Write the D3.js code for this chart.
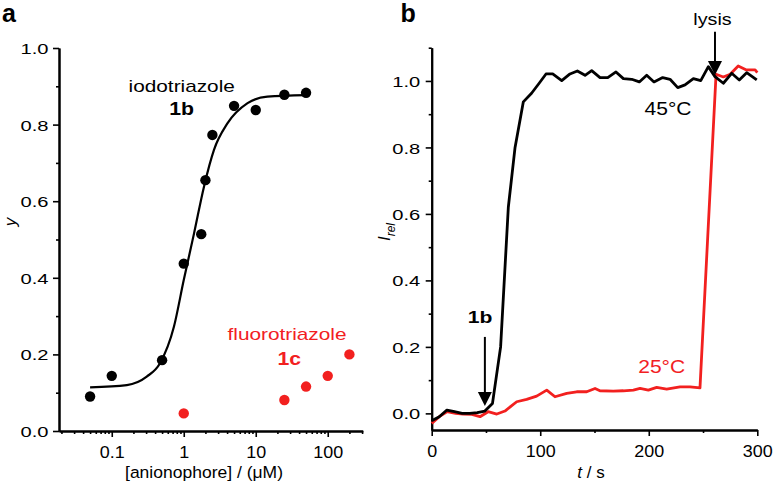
<!DOCTYPE html>
<html><head><meta charset="utf-8">
<script src="https://cdn.jsdelivr.net/npm/d3@7"></script>
<style>
html,body{margin:0;padding:0;background:#fff;}
svg{display:block;font-family:"Liberation Sans",Arial,sans-serif;}
</style></head>
<body><svg id="c" width="774" height="488"></svg>
<script>
// ---------- Panel a data ----------
const concIodo = [0.05, 0.1, 0.5, 1, 1.75, 2, 2.5, 5, 10, 25, 50];
const yIodo    = [0.09, 0.144, 0.185, 0.437, 0.514, 0.655, 0.773, 0.849, 0.838, 0.878, 0.883];
const concFluoro = [1, 25, 50, 100, 200];
const yFluoro    = [0.046, 0.081, 0.116, 0.144, 0.2];
// fitted curve
const fitConc = [0.05, 0.162, 0.306, 0.468, 0.73, 1.0, 1.39, 1.91, 2.63, 4.04, 7.7, 14.5, 50];
const fitY    = [0.114, 0.12, 0.142, 0.177, 0.272, 0.394, 0.516, 0.638, 0.734, 0.803, 0.856, 0.873, 0.877];
const xMajorA = [0.1, 1, 10, 100];
const xLabelsA = ["0.1", "1", "10", "100"];
const yMajorA = [0, 0.2, 0.4, 0.6, 0.8, 1.0];

// ---------- Panel b data ----------
const tBlack = [0, 7, 14, 21, 28, 35, 42, 49, 56, 63.5, 70.6, 76.8, 84.4, 92, 99, 105.3, 111.5, 119.8, 127.4, 134.2, 141.3, 147.4, 155.1, 162.2, 169.8, 176.6, 184.3, 191.3, 198.1, 204.8, 212.8, 219.6, 226.7, 233.4, 241.1, 247.9, 254.9, 261, 268.7, 276.4, 283.4, 290.2, 299.5];
const iBlack = [-0.022, -0.01, 0.01, 0.005, 0.0, 0.0, 0.002, 0.007, 0.03, 0.2, 0.62, 0.80, 0.937, 0.963, 0.993, 1.021, 1.021, 1.001, 1.021, 1.03, 1.017, 1.031, 1.01, 1.01, 1.027, 1.007, 1.005, 0.997, 1.017, 0.997, 1.01, 1.005, 0.98, 0.988, 1.007, 1.001, 1.043, 1.013, 0.993, 1.023, 1.003, 1.025, 1.003];
const tRed = [0, 7, 14, 22, 29, 37, 44.5, 52, 60, 67.5, 78.3, 87.5, 96.7, 106, 113.6, 124.4, 133.6, 142.8, 150.5, 155, 167.3, 176.6, 185.8, 192, 199.6, 207.3, 216.5, 228.8, 238, 247.2, 262, 268.7, 275, 282.4, 290, 298, 300];
const iRed = [-0.03, -0.01, 0.005, 0.0, -0.002, -0.003, -0.01, 0.005, -0.002, 0.007, 0.035, 0.042, 0.052, 0.07, 0.05, 0.06, 0.065, 0.065, 0.075, 0.068, 0.067, 0.068, 0.07, 0.075, 0.07, 0.078, 0.073, 0.08, 0.08, 0.077, 1.02, 1.012, 1.02, 1.045, 1.033, 1.033, 1.025];
const xMajorB = [0, 100, 200, 300];
const yMajorB = [0, 0.2, 0.4, 0.6, 0.8, 1.0];
const lysisT = 261, addT = 49;

const RED = "#f2201f", BLK = "#000";
const svg = d3.select("#c");

function txt(g, x, y, s, o) {
  o = o || {};
  const t = g.append("text")
    .attr("transform", `translate(${x},${y})` + (o.rot ? ` rotate(${o.rot})` : "") + ` scale(${o.sx || 1},1)`)
    .attr("text-anchor", o.anchor || "middle")
    .attr("font-size", o.size || 16)
    .attr("font-weight", o.bold ? "bold" : "normal")
    .attr("font-style", o.italic ? "italic" : "normal")
    .attr("fill", o.fill || BLK);
  t.text(s);
  return t;
}
function styleAxis(g) {
  g.select(".domain").attr("stroke", BLK).attr("stroke-width", 2);
  g.selectAll(".tick line").attr("stroke", BLK).attr("stroke-width", 1.6);
}

// ================= Panel a =================
const xA = d3.scaleLog().domain([0.0185, 306]).range([59, 362.7]);
const yA = d3.scaleLinear().domain([0, 1]).range([431, 48]);

const minorA = [];
[0.01, 0.1, 1, 10, 100].forEach(d => { for (let k = 2; k <= 9; k++) { const v = d * k; if (v >= 0.0185 && v <= 306) minorA.push(v); } });

const gxa = svg.append("g").attr("transform", `translate(0,${yA(0)})`);
gxa.call(d3.axisBottom(xA).tickValues(minorA).tickSize(3).tickSizeOuter(0).tickFormat(""));
styleAxis(gxa);
const gxa2 = svg.append("g").attr("transform", `translate(0,${yA(0)})`);
gxa2.call(d3.axisBottom(xA).tickValues(xMajorA).tickSize(6).tickSizeOuter(0).tickFormat((d, i) => xLabelsA[i]));
styleAxis(gxa2);
gxa2.selectAll(".tick text").attr("y", null).attr("dy", null)
  .attr("transform", "translate(0,27) scale(1.12,1)").attr("font-size", 16).attr("fill", BLK).attr("font-family", null);

const gya = svg.append("g").attr("transform", `translate(${xA.range()[0]},0)`);
gya.call(d3.axisLeft(yA).tickValues([0.1, 0.3, 0.5, 0.7, 0.9]).tickSize(3).tickSizeOuter(0).tickFormat(""));
styleAxis(gya);
const gya2 = svg.append("g").attr("transform", `translate(${xA.range()[0]},0)`);
gya2.call(d3.axisLeft(yA).tickValues(yMajorA).tickSize(6).tickSizeOuter(0).tickFormat(d3.format(".1f")));
styleAxis(gya2);
gya2.selectAll(".tick text").attr("x", null).attr("dy", "0.36em")
  .attr("transform", "translate(-10.5,0) scale(1.3,1)").attr("font-size", 15.5).attr("fill", BLK).attr("font-family", null);

// fit curve
const fitLine = d3.line().x((d, i) => xA(fitConc[i])).y(d => yA(d)).curve(d3.curveMonotoneX);
svg.append("path").attr("d", fitLine(fitY)).attr("fill", "none").attr("stroke", BLK).attr("stroke-width", 2.2);

svg.append("g").selectAll("circle").data(yIodo).join("circle")
  .attr("cx", (d, i) => xA(concIodo[i])).attr("cy", d => yA(d)).attr("r", 5.2).attr("fill", BLK);
svg.append("g").selectAll("circle").data(yFluoro).join("circle")
  .attr("cx", (d, i) => xA(concFluoro[i])).attr("cy", d => yA(d)).attr("r", 5.2).attr("fill", RED);

txt(svg, 2, 22, "a", {anchor: "start", size: 25, bold: true});
txt(svg, 181.7, 91.7, "iodotriazole", {size: 16, sx: 1.3});
txt(svg, 181.7, 115, "1b", {size: 18, bold: true, sx: 1.18});
txt(svg, 287, 340, "fluorotriazole", {size: 16, sx: 1.3, fill: RED});
txt(svg, 289.3, 365, "1c", {size: 18, bold: true, sx: 1.18, fill: RED});
txt(svg, 204, 478, "[anionophore] / (\u03BCM)", {size: 17, sx: 1.03});
txt(svg, 16, 222, "y", {size: 17, italic: true, rot: -90});

// ================= Panel b =================
const xB = d3.scaleLinear().domain([0, 300]).range([431.7, 757.3]);
const yB = d3.scaleLinear().domain([-0.05, 1.1]).range([430, 47.7]);

const gxb = svg.append("g").attr("transform", `translate(0,${yB.range()[0]})`);
gxb.call(d3.axisBottom(xB).tickValues([50, 150, 250]).tickSize(3).tickSizeOuter(0).tickFormat(""));
styleAxis(gxb);
const gxb2 = svg.append("g").attr("transform", `translate(0,${yB.range()[0]})`);
gxb2.call(d3.axisBottom(xB).tickValues(xMajorB).tickSize(6).tickSizeOuter(0).tickFormat(d3.format("d")));
styleAxis(gxb2);
gxb2.selectAll(".tick text").attr("y", null).attr("dy", null)
  .attr("transform", "translate(0,27) scale(1.12,1)").attr("font-size", 16).attr("fill", BLK).attr("font-family", null);

const gyb = svg.append("g").attr("transform", `translate(${xB.range()[0]},0)`);
gyb.call(d3.axisLeft(yB).tickValues([0.1, 0.3, 0.5, 0.7, 0.9, 1.1]).tickSize(3).tickSizeOuter(0).tickFormat(""));
styleAxis(gyb);
const gyb2 = svg.append("g").attr("transform", `translate(${xB.range()[0]},0)`);
gyb2.call(d3.axisLeft(yB).tickValues(yMajorB).tickSize(6).tickSizeOuter(0).tickFormat(d3.format(".1f")));
styleAxis(gyb2);
gyb2.selectAll(".tick text").attr("x", null).attr("dy", "0.36em")
  .attr("transform", "translate(-11.5,0) scale(1.3,1)").attr("font-size", 15.5).attr("fill", BLK).attr("font-family", null);

const lineB = (ts) => d3.line().x((d, i) => xB(ts[i])).y(d => yB(d));
svg.append("path").attr("d", lineB(tRed)(iRed)).attr("fill", "none").attr("stroke", RED).attr("stroke-width", 2.8).attr("stroke-linejoin", "round");
svg.append("path").attr("d", lineB(tBlack)(iBlack)).attr("fill", "none").attr("stroke", BLK).attr("stroke-width", 2.8).attr("stroke-linejoin", "round");

function arrow(x, yTop, yTip) {
  svg.append("line").attr("x1", x).attr("x2", x).attr("y1", yTop).attr("y2", yTip - 10).attr("stroke", BLK).attr("stroke-width", 2);
  svg.append("path").attr("d", `M${x - 7},${yTip - 14} L${x + 7},${yTip - 14} L${x},${yTip} Z`).attr("fill", BLK);
}
arrow(xB(lysisT), yB(1.148), yB(1.018));
arrow(xB(addT), yB(0.23), yB(0.022));

txt(svg, 400.5, 22, "b", {anchor: "start", size: 25, bold: true});
txt(svg, 712.5, 25, "lysis", {size: 17, sx: 1.16});
txt(svg, 668, 115, "45\u00B0C", {size: 18, sx: 1.17});
txt(svg, 661.7, 373.3, "25\u00B0C", {size: 18, sx: 1.17, fill: RED});
txt(svg, 480, 323.3, "1b", {size: 16.5, bold: true, sx: 1.28});
const tl = txt(svg, 591, 478, "", {size: 17});
tl.append("tspan").attr("font-style", "italic").text("t");
tl.append("tspan").text(" / s");
const il = txt(svg, 390, 232, "", {size: 17, rot: -90});
il.append("tspan").attr("font-style", "italic").text("I");
il.append("tspan").attr("font-style", "italic").attr("font-size", 12).attr("dy", 5).text("rel");
</script></body></html>
